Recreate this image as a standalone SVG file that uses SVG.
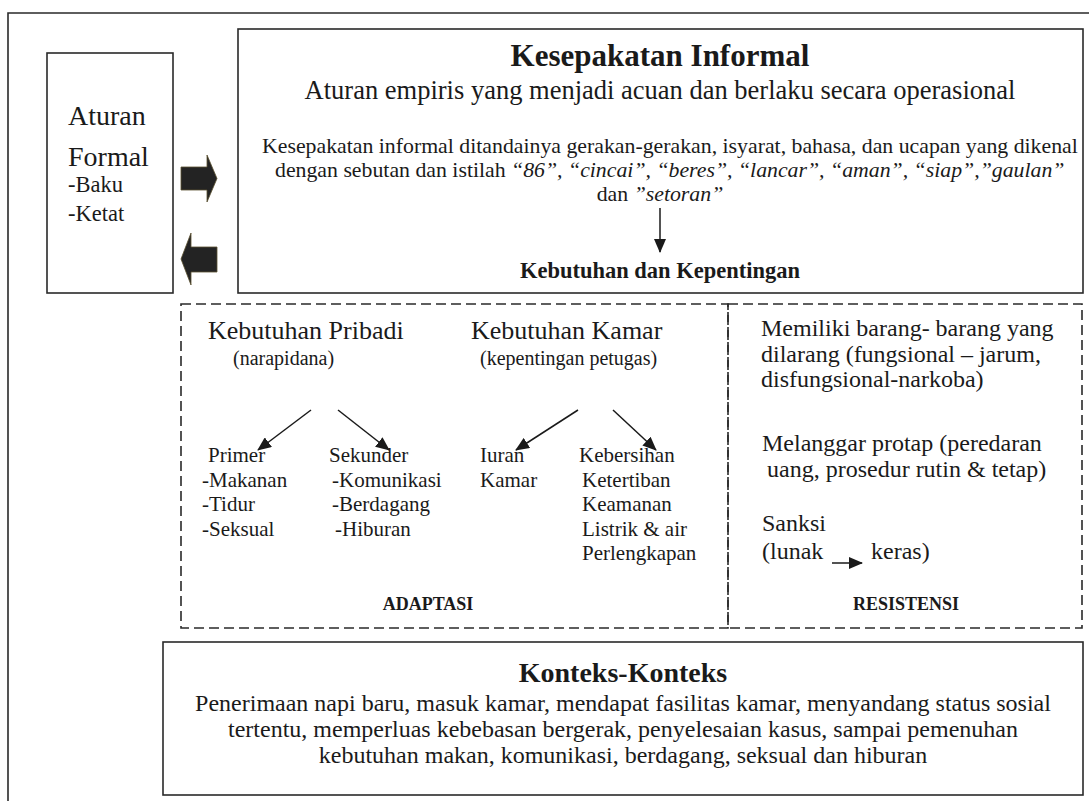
<svg xmlns="http://www.w3.org/2000/svg" width="1089" height="801" viewBox="0 0 1089 801">
<style>
text{font-family:"Liberation Serif","Times New Roman",serif;fill:#1a1a1a}
.box{fill:none;stroke:#2a2a2a;stroke-width:1.6}
.dash{fill:none;stroke:#2a2a2a;stroke-width:1.6;stroke-dasharray:10 5}
.b{font-weight:bold}
.mid{text-anchor:middle}
.it{font-style:italic}
.con{stroke:#1a1a1a;stroke-width:1.5;fill:none;marker-end:url(#ah)}
.blk{fill:#232323;stroke:#5a5030;stroke-width:0.8}
</style>
<defs>
<marker id="ah" markerWidth="14" markerHeight="12" refX="13" refY="6" orient="auto" markerUnits="userSpaceOnUse">
<path d="M0,0 L14,6 L0,12 Z" fill="#1a1a1a"/>
</marker>
</defs>
<rect width="1089" height="801" fill="#fff"/>
<path class="box" d="M8,801 V13 H1089"/>

<g id="aturan-formal">
<rect class="box" x="47" y="53" width="126" height="240"/>
<text x="68" y="125" font-size="28">Aturan</text>
<text x="68" y="166" font-size="28">Formal</text>
<text x="68" y="192" font-size="22.5">-Baku</text>
<text x="68" y="221" font-size="22.5">-Ketat</text>
</g>

<g id="kesepakatan-informal">
<rect class="box" x="238" y="29" width="845" height="264"/>
<text x="660" y="66" font-size="31" class="b mid">Kesepakatan Informal</text>
<text x="660" y="99" font-size="26.5" class="mid">Aturan empiris yang menjadi acuan dan berlaku secara operasional</text>
<text x="262" y="153" font-size="21.8">Kesepakatan informal ditandainya gerakan-gerakan, isyarat, bahasa, dan ucapan yang dikenal</text>
<text x="275" y="177" font-size="21.8">dengan sebutan dan istilah <tspan class="it">“86”, “cincai”, “beres”, “lancar”, “aman”, “siap”,”gaulan”</tspan></text>
<text x="660" y="201" font-size="21.8" class="mid">dan <tspan class="it">”setoran”</tspan></text>
<text x="660" y="278" font-size="22.5" class="b mid">Kebutuhan dan Kepentingan</text>
</g>

<g id="adaptasi">
<rect class="dash" x="181" y="304" width="547" height="324"/>
<text x="208" y="339" font-size="26">Kebutuhan Pribadi</text>
<text x="233" y="365" font-size="20">(narapidana)</text>
<text x="471" y="339" font-size="26">Kebutuhan Kamar</text>
<text x="480" y="365" font-size="20">(kepentingan petugas)</text>
<text x="208" y="462" font-size="21">Primer</text>
<text x="202" y="486.5" font-size="21">-Makanan</text>
<text x="202" y="511" font-size="21">-Tidur</text>
<text x="202" y="535.5" font-size="21">-Seksual</text>
<text x="329" y="462" font-size="21">Sekunder</text>
<text x="332" y="486.5" font-size="21">-Komunikasi</text>
<text x="332" y="511" font-size="21">-Berdagang</text>
<text x="335" y="535.5" font-size="21">-Hiburan</text>
<text x="480" y="462" font-size="21">Iuran</text>
<text x="480" y="486.5" font-size="21">Kamar</text>
<text x="579" y="462" font-size="21">Kebersihan</text>
<text x="582" y="486.5" font-size="21">Ketertiban</text>
<text x="582" y="511" font-size="21">Keamanan</text>
<text x="582" y="535.5" font-size="21">Listrik &amp; air</text>
<text x="582" y="560" font-size="21">Perlengkapan</text>
<text x="428" y="610" font-size="18" class="b mid">ADAPTASI</text>
</g>

<g id="resistensi">
<rect class="dash" x="728" y="304" width="354" height="324"/>
<text x="761" y="336" font-size="24">Memiliki barang- barang yang</text>
<text x="761" y="362" font-size="24">dilarang (fungsional – jarum,</text>
<text x="761" y="387" font-size="24">disfungsional-narkoba)</text>
<text x="762" y="451" font-size="24">Melanggar protap (peredaran</text>
<text x="767" y="477" font-size="24">uang, prosedur rutin &amp; tetap)</text>
<text x="762" y="531" font-size="24">Sanksi</text>
<text x="762" y="559" font-size="24">(lunak</text>
<text x="871" y="559" font-size="24">keras)</text>
<text x="906" y="610" font-size="18" class="b mid">RESISTENSI</text>
</g>

<g id="konteks">
<rect class="box" x="163" y="642" width="920" height="153"/>
<text x="623" y="682" font-size="28" class="b mid">Konteks-Konteks</text>
<text x="623" y="711" font-size="24" class="mid">Penerimaan napi baru, masuk kamar, mendapat fasilitas kamar, menyandang status sosial</text>
<text x="623" y="737" font-size="24" class="mid">tertentu, memperluas kebebasan bergerak, penyelesaian kasus, sampai pemenuhan</text>
<text x="623" y="763" font-size="24" class="mid">kebutuhan makan, komunikasi, berdagang, seksual dan hiburan</text>
</g>

<g id="connectors">
<path class="blk" d="M181,167 H207 V155 L217,178.5 L207,202 V190 H181 Z"/>
<path class="blk" d="M217,247 H191 V233 L181,259 L191,285 V272 H217 Z"/>
<line class="con" x1="660" y1="208" x2="660" y2="252"/>
<line class="con" x1="311" y1="410" x2="258" y2="450"/>
<line class="con" x1="338" y1="410" x2="389" y2="450"/>
<line class="con" x1="578" y1="410" x2="516" y2="450"/>
<line class="con" x1="613" y1="410" x2="656" y2="450"/>
<line class="con" x1="832" y1="563" x2="862" y2="563"/>
</g>
</svg>
